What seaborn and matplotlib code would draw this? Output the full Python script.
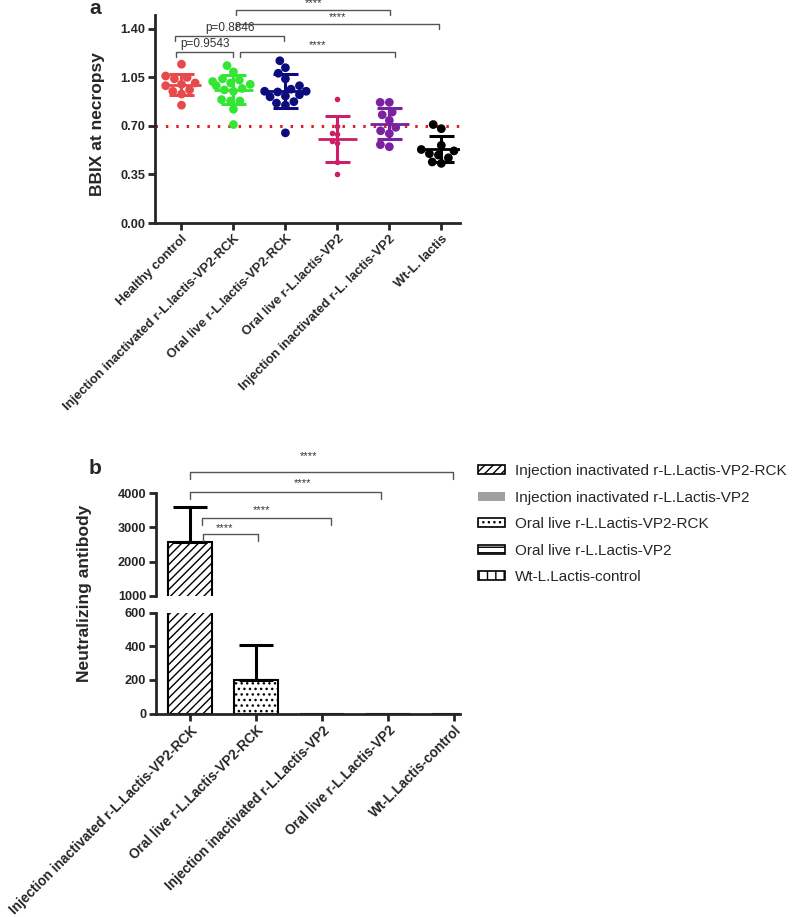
import numpy as np
import pandas as pd
import matplotlib
matplotlib.use('Agg')
import matplotlib.pyplot as plt
import seaborn as sns
from matplotlib.patches import Patch
from matplotlib.ticker import FormatStrFormatter

# ---- panel a: BBIX at necropsy ----
groups_a = ['Healthy control', 'Injection inactivated r-L.lactis-VP2-RCK', 'Oral live r-L.lactis-VP2-RCK',
            'Oral live r-L.lactis-VP2', 'Injection inactivated r-L. lactis-VP2', 'Wt-L. lactis']
healthy = [1.145, 1.06, 1.04, 1.05, 1.0, 1.01, 0.99, 0.95, 0.93, 0.96, 0.85]
inj_rck = [1.135, 1.09, 1.04, 1.03, 1.01, 1.0, 1.02, 0.99, 0.96, 0.95, 0.97, 0.88, 0.88, 0.89, 0.82, 0.71]
oral_rck = [1.17, 1.12, 1.08, 1.04, 0.99, 0.965, 0.95, 0.95, 0.945, 0.915, 0.925, 0.91, 0.865, 0.875, 0.85, 0.65]
oral_vp2 = [0.895, 0.70, 0.65, 0.645, 0.59, 0.58, 0.44, 0.35]
inj_vp2 = [0.87, 0.87, 0.80, 0.78, 0.74, 0.69, 0.665, 0.645, 0.55, 0.565]
wt = [0.71, 0.68, 0.56, 0.50, 0.53, 0.52, 0.49, 0.47, 0.43, 0.44]
bbix = [healthy, inj_rck, oral_rck, oral_vp2, inj_vp2, wt]
colors_a = ['#e84a4c', '#33e633', '#0c0c7e', '#cc1f66', '#7a22a0', '#000000']
threshold = 0.70

# ---- panel b: neutralizing antibody ----
groups_b = ['Injection inactivated r-L.Lactis-VP2-RCK', 'Oral live r-L.Lactis-VP2-RCK',
            'Injection inactivated r-L.Lactis-VP2', 'Oral live r-L.Lactis-VP2', 'Wt-L.Lactis-control']
nab_mean = [2560, 200, 0, 0, 0]
nab_sd = [1030, 210, 0, 0, 0]
hatches_b = ['////', '...', '', '', '']
legend_labels = ['Injection inactivated r-L.Lactis-VP2-RCK', 'Injection inactivated r-L.Lactis-VP2',
                 'Oral live r-L.Lactis-VP2-RCK', 'Oral live r-L.Lactis-VP2', 'Wt-L.Lactis-control']

sns.set_style('ticks')
plt.rcParams['font.family'] = ['Liberation Sans', 'DejaVu Sans']
plt.rcParams['hatch.linewidth'] = 1.0
plt.rcParams['axes.linewidth'] = 2

W, H = 797, 917
fig = plt.figure(figsize=(W / 100, H / 100), dpi=100)


def px_axes(x0, y0, x1, y1):
    return fig.add_axes([x0 / W, 1 - y1 / H, (x1 - x0) / W, (y1 - y0) / H])


def style_ticks(a, xsize):
    a.tick_params(direction='out', length=5, width=2, labelsize=9.2, pad=2)
    a.tick_params(axis='x', labelsize=xsize)
    for t in a.get_xticklabels() + a.get_yticklabels():
        t.set_fontweight('bold')


# ================= panel a =================
ax = px_axes(155, 15, 460, 223)
df_a = pd.DataFrame({'group': np.repeat(groups_a, [len(v) for v in bbix]),
                     'bbix': np.concatenate(bbix)})
small = df_a['group'] == groups_a[3]
sns.swarmplot(data=df_a[~small], x='group', y='bbix', hue='group', order=groups_a,
              hue_order=groups_a, palette=colors_a, size=6.3, legend=False, ax=ax, zorder=2)
sns.swarmplot(data=df_a[small], x='group', y='bbix', order=groups_a, color=colors_a[3],
              size=4, ax=ax, zorder=2)

for i, vals in enumerate(bbix):
    m, s = np.mean(vals), np.std(vals, ddof=1)
    ax.hlines(m, i - 0.37, i + 0.37, color=colors_a[i], lw=2, zorder=3)
    ax.errorbar(i, m, yerr=s, color=colors_a[i], capsize=9, elinewidth=2.2, capthick=2.2, zorder=3)

ax.axhline(threshold, color='#e02020', ls=(0, (0.8, 2.6)), lw=2.2, zorder=1)
ax.set_xlim(-0.51, 5.36)
ax.set_ylim(0, 1.5)
ax.set_yticks([0, 0.35, 0.70, 1.05, 1.40])
ax.yaxis.set_major_formatter(FormatStrFormatter('%.2f'))
ax.set_xticks(range(len(groups_a)))
ax.set_xticklabels(groups_a, rotation=45, ha='right', rotation_mode='anchor')
ax.set_xlabel('')
ax.set_ylabel('BBIX at necropsy', fontsize=12.5, fontweight='bold')
ax.yaxis.set_label_coords(-0.165, 0.476)
sns.despine(ax=ax)
style_ticks(ax, 9.4)

# significance brackets (x1, x2, y, label)
for x1, x2, y, lab in [(-0.1, 0.99, 1.234, 'p=0.9543'), (-0.12, 1.97, 1.349, 'p=0.8846'),
                       (1.13, 4.11, 1.234, '****'), (1.05, 4.96, 1.436, '****'),
                       (1.05, 4.02, 1.537, '****')]:
    ax.plot([x1, x1, x2, x2], [y - 0.036, y, y, y - 0.036], color='#555555', lw=1,
            clip_on=False)
    ax.text((x1 + x2) / 2, y + 0.012, lab, ha='center', va='bottom',
            fontsize=8.5 if lab.startswith('p') else 8, color='#333333', clip_on=False)

# ================= panel b =================
axt = px_axes(156, 493.3, 460, 595.7)
axb = px_axes(156, 612.5, 460, 713.7)
df_b = pd.DataFrame({'group': groups_b, 'nab': nab_mean})
err_idx = [i for i in range(len(nab_sd)) if nab_sd[i] > 0]
for a in (axt, axb):
    sns.barplot(data=df_b, x='group', y='nab', order=groups_b, color='white',
                edgecolor='black', linewidth=1.5, width=0.68, errorbar=None, ax=a)
    for p, h in zip(a.patches, hatches_b):
        p.set_hatch(h)
        p.set_facecolor('white')
    a.errorbar(err_idx, [nab_mean[i] for i in err_idx],
               yerr=[[0] * len(err_idx), [nab_sd[i] for i in err_idx]],
               fmt='none', ecolor='black', elinewidth=2.2, capsize=12, capthick=2.2)
    a.set_xlim(-0.515, 4.09)
    a.set_xlabel('')
    a.set_ylabel('')
    sns.despine(ax=a)

axt.set_ylim(1000, 4000)
axt.set_yticks([1000, 2000, 3000, 4000])
axt.spines['bottom'].set_visible(False)
axt.tick_params(bottom=False, labelbottom=False)
axb.set_ylim(0, 600)
axb.set_yticks([0, 200, 400, 600])
axb.set_xticks(range(len(groups_b)))
axb.set_xticklabels(groups_b, rotation=45, ha='right', rotation_mode='anchor')
style_ticks(axt, 9.8)
style_ticks(axb, 9.8)

# brackets in upper-axis data units (x1, x2, y, text x, text y)
for x1, x2, y, tx, ty in [(0, 3.98, 4618, 1.79, 5079), (0, 2.9, 4041, 1.71, 4285),
                          (0.18, 2.13, 3276, 1.09, 3521), (0.2, 1.03, 2815, 0.52, 2991)]:
    axt.plot([x1, x1, x2, x2], [y - 200, y, y, y - 200], color='#555555', lw=1,
             clip_on=False)
    axt.text(tx, ty, '****', ha='center', va='center', fontsize=8, color='#333333',
             clip_on=False)

fig.text(85 / W, 1 - 593 / H, 'Neutralizing antibody', rotation=90, ha='center',
         va='center', fontsize=12.5, fontweight='bold')

handles = [Patch(facecolor='white', edgecolor='black', hatch='////', lw=1.2),
           Patch(facecolor='#a0a0a0', edgecolor='#a0a0a0', lw=0),
           Patch(facecolor='white', edgecolor='black', hatch='...', lw=1.2),
           Patch(facecolor='white', edgecolor='black', hatch='---', lw=1.2),
           Patch(facecolor='white', edgecolor='black', hatch='||', lw=1.2)]
fig.legend(handles, legend_labels, loc='upper left', bbox_to_anchor=(478 / W, 1 - 464 / H),
           frameon=False, fontsize=11, handlelength=1.75, handleheight=0.55,
           labelspacing=0.82, handletextpad=0.7, borderaxespad=0, borderpad=0)

fig.text(95 / W, 1 - 9 / H, 'a', fontsize=15, fontweight='bold', ha='center', va='center')
fig.text(95 / W, 1 - 468 / H, 'b', fontsize=15, fontweight='bold', ha='center', va='center')

fig.savefig('out.png', dpi=100)
